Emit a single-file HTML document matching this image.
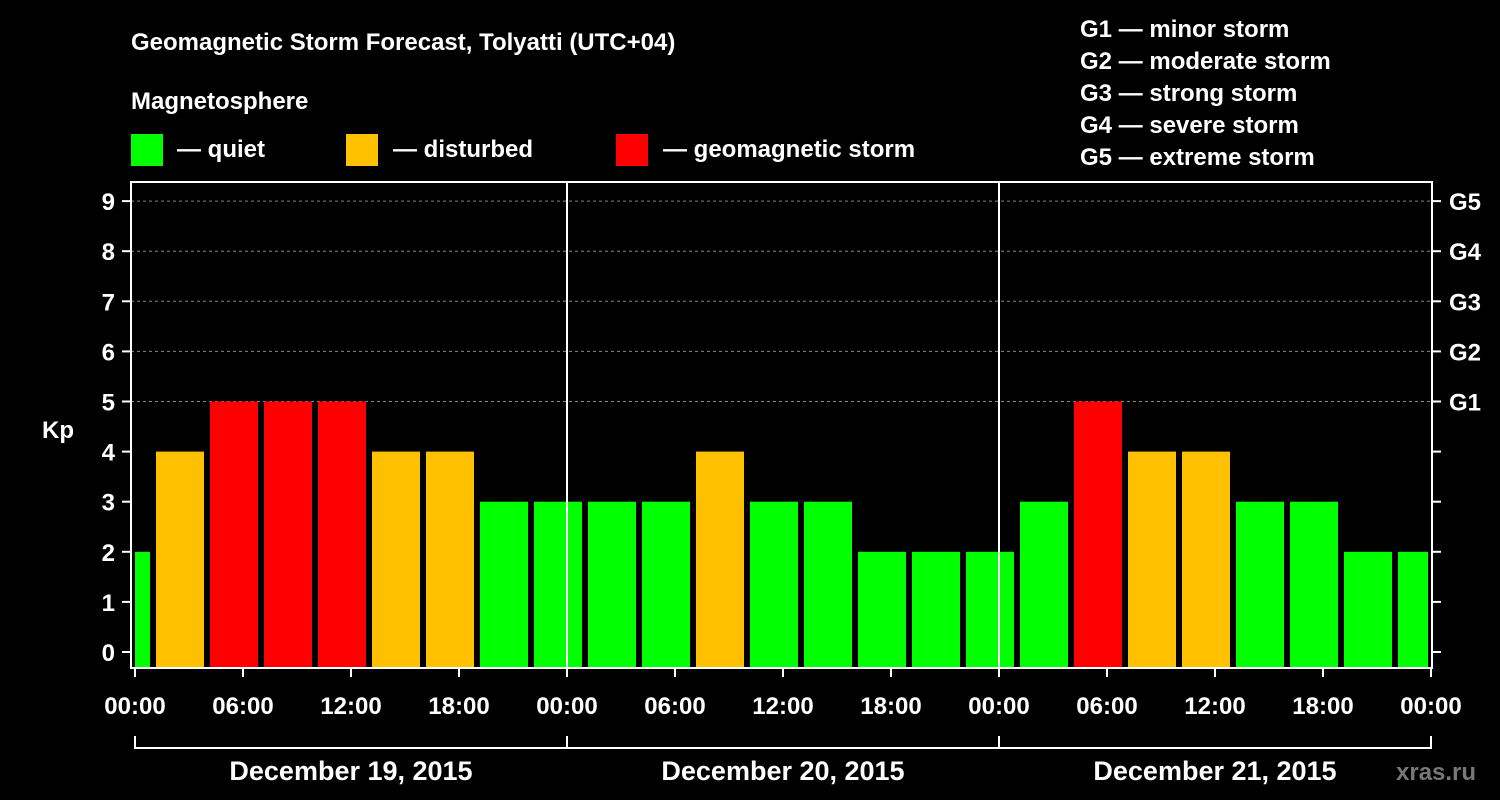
<!DOCTYPE html>
<html><head><meta charset="utf-8"><style>
html,body{margin:0;padding:0;background:#000;width:1500px;height:800px;overflow:hidden}
svg text{font-family:"Liberation Sans",Arial,sans-serif;font-weight:bold;fill:#fff}
</style></head><body>
<svg id="chart" width="1500" height="800" xmlns="http://www.w3.org/2000/svg">
<rect width="1500" height="800" fill="#000"/>
<text x="131" y="50" font-size="24">Geomagnetic Storm Forecast, Tolyatti (UTC+04)</text>
<text x="131" y="109" font-size="24">Magnetosphere</text>
<g>
<rect x="131" y="134" width="32" height="32" fill="#00ff00"/>
<text x="177" y="157" font-size="24">— quiet</text>
<rect x="346" y="134" width="32" height="32" fill="#ffc000"/>
<text x="393" y="157" font-size="24">— disturbed</text>
<rect x="616" y="134" width="32" height="32" fill="#ff0000"/>
<text x="663" y="157" font-size="24">— geomagnetic storm</text>
</g>
<g font-size="24">
<text x="1080" y="37">G1 — minor storm</text>
<text x="1080" y="69">G2 — moderate storm</text>
<text x="1080" y="101">G3 — strong storm</text>
<text x="1080" y="133">G4 — severe storm</text>
<text x="1080" y="165">G5 — extreme storm</text>
</g>
<text x="42" y="438" font-size="24">Kp</text>
<g id="grid"></g><g id="bars"></g><g id="axes"></g>
<text x="1396" y="780" font-size="24" style="fill:#777">xras.ru</text>
</svg>
<script>
const kpValues=[2,4,5,5,5,4,4,3,3,3,3,4,3,3,2,2,2,3,5,4,4,3,3,2,2];
const yTicks=[0,1,2,3,4,5,6,7,8,9];
const gLabels=["G1","G2","G3","G4","G5"];
const xTickLabels=["00:00","06:00","12:00","18:00","00:00","06:00","12:00","18:00","00:00","06:00","12:00","18:00","00:00"];
const dayLabels=["December 19, 2015","December 20, 2015","December 21, 2015"];
const NS="http://www.w3.org/2000/svg";
const X0=135,PXH=18,Y0=652,PXU=50.1,TOTAL=72;
const xs=h=>X0+h*PXH, ys=v=>Y0-v*PXU;
function mk(p,tag,a){const e=document.createElementNS(NS,tag);for(const k in a)e.setAttribute(k,a[k]);p.appendChild(e);return e;}
const grid=document.getElementById('grid'),bars=document.getElementById('bars'),axes=document.getElementById('axes');
for(let v=5;v<=9;v++){const l=mk(grid,'line',{x1:131,x2:1432,y1:ys(v),y2:ys(v),stroke:'#888','stroke-dasharray':'3,3','stroke-width':1});

}
kpValues.forEach((v,i)=>{const s=-2+3*i,e=s+3;
const left=s<0?xs(0):xs(s)+3, right=e>TOTAL?xs(TOTAL)-3:xs(e)-3;
const col=v>=5?'#ff0000':v>=4?'#ffc000':'#00ff00';
const r=mk(bars,'rect',{x:left,y:ys(v),width:right-left,height:Y0-ys(v)+16,fill:col});

});
// frame
const f=mk(axes,'rect',{x:131,y:182,width:1301,height:486,fill:'none',stroke:'#fff','stroke-width':2});


[24,48].forEach(h=>{const l=mk(axes,'line',{x1:xs(h),x2:xs(h),y1:182,y2:668,stroke:'#fff','stroke-width':2});

});
yTicks.forEach(v=>{const y=ys(v);
mk(axes,'line',{x1:122,x2:131,y1:y,y2:y,stroke:'#fff','stroke-width':2});
mk(axes,'line',{x1:1432,x2:1441,y1:y,y2:y,stroke:'#fff','stroke-width':2});
const t=mk(axes,'text',{x:115,y:y+9,'text-anchor':'end','font-size':24});t.textContent=v;


if(v>=5){const g=mk(axes,'text',{x:1449,y:y+9,'font-size':24});g.textContent=gLabels[v-5];

}});
xTickLabels.forEach((lab,i)=>{const x=xs(i*6);
mk(axes,'line',{x1:x,x2:x,y1:668,y2:677,stroke:'#fff','stroke-width':2});
const t=mk(axes,'text',{x:x,y:714,'text-anchor':'middle','font-size':24});t.textContent=lab;

});
mk(axes,'line',{x1:xs(0),x2:xs(72),y1:748,y2:748,stroke:'#fff','stroke-width':2});
[0,24,48,72].forEach(h=>mk(axes,'line',{x1:xs(h),x2:xs(h),y1:736,y2:749,stroke:'#fff','stroke-width':2}));
dayLabels.forEach((d,i)=>{const t=mk(axes,'text',{x:xs(i*24+12),y:780,'text-anchor':'middle','font-size':27});t.textContent=d;

});
</script>
</body></html>
